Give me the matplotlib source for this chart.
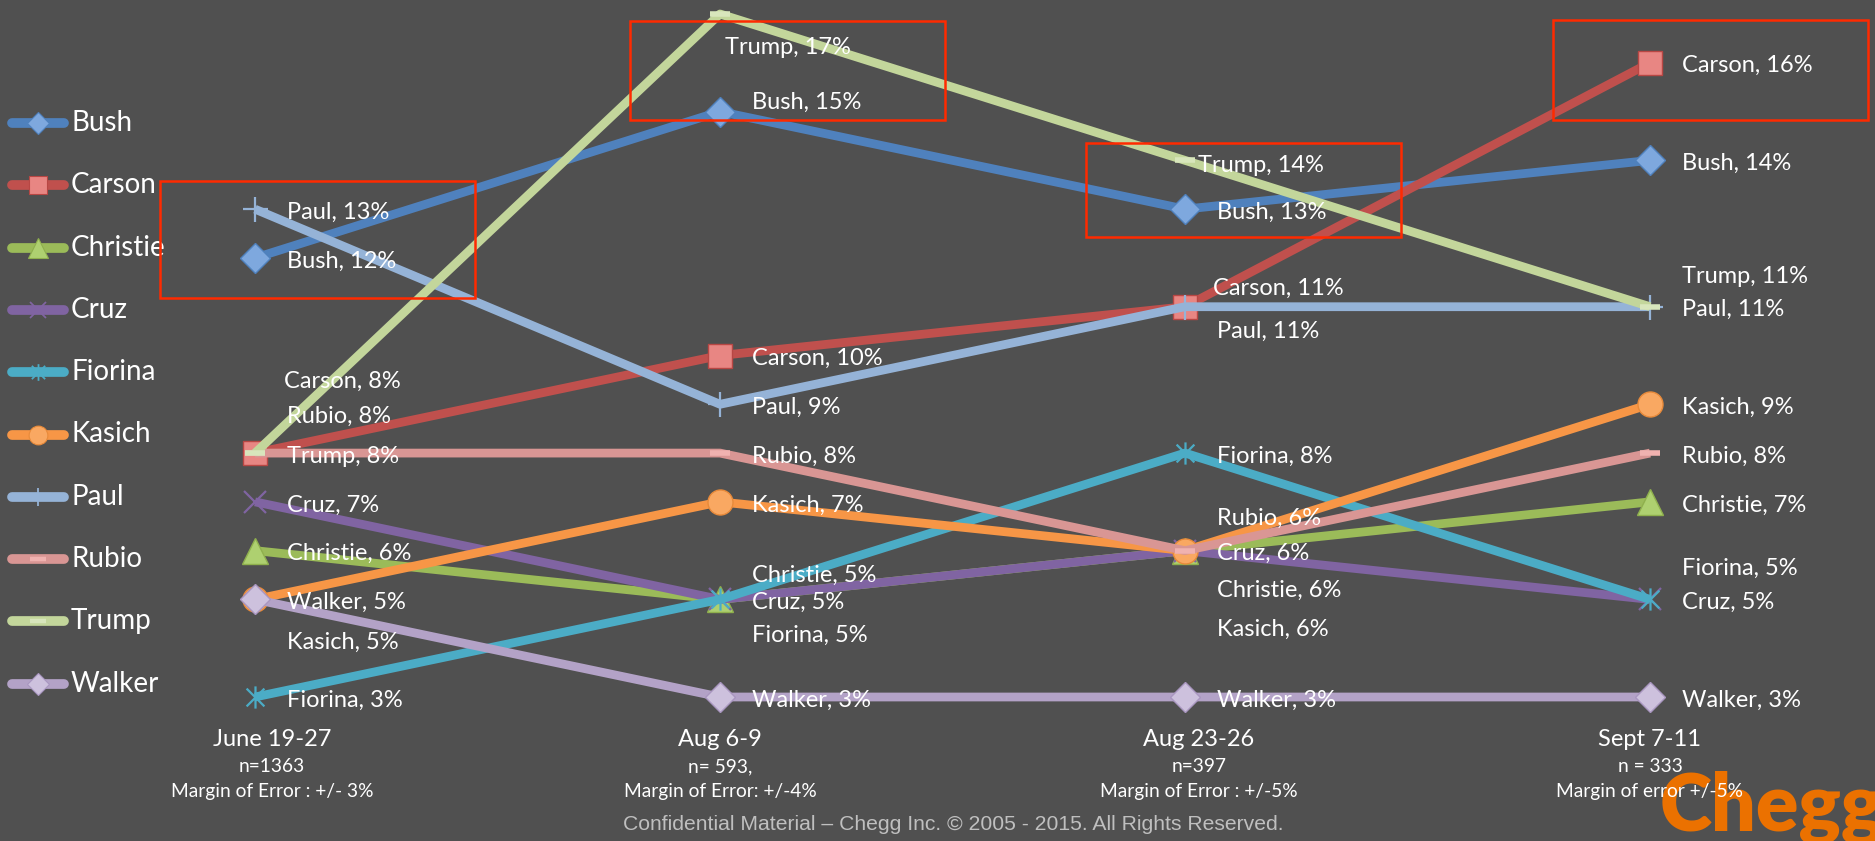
import matplotlib
matplotlib.use("Agg")
import matplotlib.pyplot as plt
from matplotlib.lines import Line2D
from matplotlib.patches import Rectangle
from matplotlib.path import Path
import matplotlib.transforms as mtransforms

# ---------------- data ----------------
periods = ["June 19-27", "Aug 6-9", "Aug 23-26", "Sept 7-11"]
sample_lines = ["n=1363", "n= 593,", "n=397", "n = 333"]
moe_lines = ["Margin of Error : +/- 3%", "Margin of Error: +/-4%",
             "Margin of Error : +/-5%", "Margin of error +/-5%"]

candidates = ["Bush", "Carson", "Christie", "Cruz", "Fiorina",
              "Kasich", "Paul", "Rubio", "Trump", "Walker"]
bush = [12, 15, 13, 14]
carson = [8, 10, 11, 16]
christie = [6, 5, 6, 7]
cruz = [7, 5, 6, 5]
fiorina = [3, 5, 8, 5]
kasich = [5, 7, 6, 9]
paul = [13, 9, 11, 11]
rubio = [8, 8, 6, 8]
trump = [8, 17, 14, 11]
walker = [5, 3, 3, 3]
series = [bush, carson, christie, cruz, fiorina, kasich, paul, rubio, trump, walker]

footer = "Confidential Material \u2013 Chegg Inc. \u00a9 2005 - 2015. All Rights Reserved."

# ---------------- styles ----------------
BG = "#505050"
W, H = 1875, 841
star_path = Path([(-1, -1), (1, 1), (-1, 1), (1, -1), (0, -1.25), (0, 1.25)],
                 [Path.MOVETO, Path.LINETO, Path.MOVETO, Path.LINETO, Path.MOVETO, Path.LINETO])

styles = {
    "Bush":     dict(color="#4F81BD", marker="D", ms=15, mfc="#7EA8DE", mec="#4F81BD", mew=1),
    "Carson":   dict(color="#C0504D", marker="s", ms=17, mfc="#E88683", mec="#B84744", mew=1),
    "Christie": dict(color="#9BBB59", marker="^", ms=19, mfc="#AED070", mec="#8FB04D", mew=1),
    "Cruz":     dict(color="#8064A2", marker="x", ms=16, mfc="#8064A2", mec="#8064A2", mew=1.6),
    "Fiorina":  dict(color="#4BACC6", marker=star_path, ms=16, mfc="#4BACC6", mec="#4BACC6", mew=1.6),
    "Kasich":   dict(color="#F79646", marker="o", ms=18, mfc="#F9A862", mec="#E88A3A", mew=1),
    "Paul":     dict(color="#95B3D7", marker="+", ms=18, mfc="#95B3D7", mec="#95B3D7", mew=1.6),
    "Rubio":    dict(color="#D99694", marker="_", ms=15, mfc="#F0B2B0", mec="#F0B2B0", mew=4),
    "Trump":    dict(color="#C3D69B", marker="_", ms=15, mfc="#D8E6BC", mec="#D8E6BC", mew=4),
    "Walker":   dict(color="#B3A2C7", marker="D", ms=15, mfc="#CDC1DD", mec="#A996C0", mew=1),
}

# label offsets (pixels): (dx, dy) with dy positive downward
label_off = {
    ("Carson", 0): (-3, -75), ("Rubio", 0): (0, -40), ("Kasich", 0): (0, 40),
    ("Trump", 1): (-27, 31), ("Bush", 1): (0, -12), ("Christie", 1): (0, -27),
    ("Fiorina", 1): (0, 33),
    ("Trump", 2): (-19, 2), ("Carson", 2): (-4, -21), ("Paul", 2): (0, 22),
    ("Rubio", 2): (0, -35), ("Christie", 2): (0, 37), ("Kasich", 2): (0, 76),
    ("Trump", 3): (0, -33), ("Fiorina", 3): (0, -34),
}

plt.rcParams["font.family"] = ["Lato", "DejaVu Sans"]

fig = plt.figure(figsize=(W / 100, H / 100), dpi=100)
fig.patch.set_facecolor(BG)
ax = fig.add_axes([0, 0, 1, 1])
ax.set_zorder(2)
ax.patch.set_visible(False)

x0px, dxpx = 255, 465.0
y3px, y17px = 697, 14
ppp = (y3px - y17px) / 14.0
ax.set_xlim(-x0px / dxpx, (W - x0px) / dxpx)
ax.set_ylim(3 - (H - y3px) / ppp, 17 + y17px / ppp)
ax.axis("off")

xs = list(range(len(periods)))
for name, vals in zip(candidates, series):
    st = styles[name]
    ax.plot(xs, vals, color=st["color"], lw=6.3, solid_joinstyle="round",
            solid_capstyle="butt", marker=st["marker"], ms=st["ms"],
            mfc=st["mfc"], mec=st["mec"], mew=st["mew"], zorder=3)

for name, vals in zip(candidates, series):
    for i, v in enumerate(vals):
        dx, dy = label_off.get((name, i), (0, 0))
        ax.annotate(f"{name}, {v}%", xy=(i, v), xytext=(32 + dx, -dy - 3),
                    textcoords="offset pixels", ha="left", va="center",
                    color="white", fontsize=17, zorder=5)

# category labels
cat_dx = [17, 0, 14, 0]
trans = mtransforms.blended_transform_factory(ax.transData, fig.transFigure)
for i, (p, n, m) in enumerate(zip(periods, sample_lines, moe_lines)):
    ax.annotate(p, xy=(i, 1 - 740 / H), xycoords=trans, xytext=(cat_dx[i], 0),
                textcoords="offset pixels", ha="center", va="center",
                color="white", fontsize=17, zorder=6)
    ax.annotate(n, xy=(i, 1 - 767 / H), xycoords=trans, xytext=(cat_dx[i], 0),
                textcoords="offset pixels", ha="center", va="center",
                color="white", fontsize=13.8, zorder=6)
    ax.annotate(m, xy=(i, 1 - 791 / H), xycoords=trans, xytext=(cat_dx[i], 0),
                textcoords="offset pixels", ha="center", va="center",
                color="white", fontsize=13.8, zorder=6)

def fx(px):
    return px / W

def fy(py):
    return 1 - py / H

# legend
for k, name in enumerate(candidates):
    st = styles[name]
    yy = 123 + 62.3 * k
    fig.add_artist(Line2D([fx(12), fx(64)], [fy(yy), fy(yy)], transform=fig.transFigure,
                          color=st["color"], lw=7, solid_capstyle="round"))
    fig.add_artist(Line2D([fx(38)], [fy(yy)], transform=fig.transFigure,
                          marker=st["marker"], ms=st["ms"] * 0.75, mfc=st["mfc"],
                          mec=st["mec"], mew=st["mew"] * 0.8, lw=0))
    fig.text(fx(71), fy(yy), name, color="white", fontsize=20, ha="left", va="center")

# highlight boxes
boxes = [(160, 181, 475, 298), (630, 21, 945, 120), (1086, 143, 1401, 237), (1553, 20, 1868, 120)]
for (x1, y1, x2, y2) in boxes:
    fig.add_artist(Rectangle((fx(x1), fy(y2)), fx(x2) - fx(x1), fy(y1) - fy(y2),
                             transform=fig.transFigure, fill=False, ec="#FF2A00", lw=1.8,
                             zorder=4))

# footer + logo
fig.text(fx(953), fy(825), footer, ha="center", va="center", color="#BFBFBF",
         fontsize=15.2, family=["Liberation Sans", "DejaVu Sans"])
fig.text(fx(1660), fy(831), "Chegg", ha="left", va="baseline", color="#EB7100",
         fontsize=57, weight="heavy", zorder=1)

fig.savefig("out.png", dpi=100, facecolor=BG)
